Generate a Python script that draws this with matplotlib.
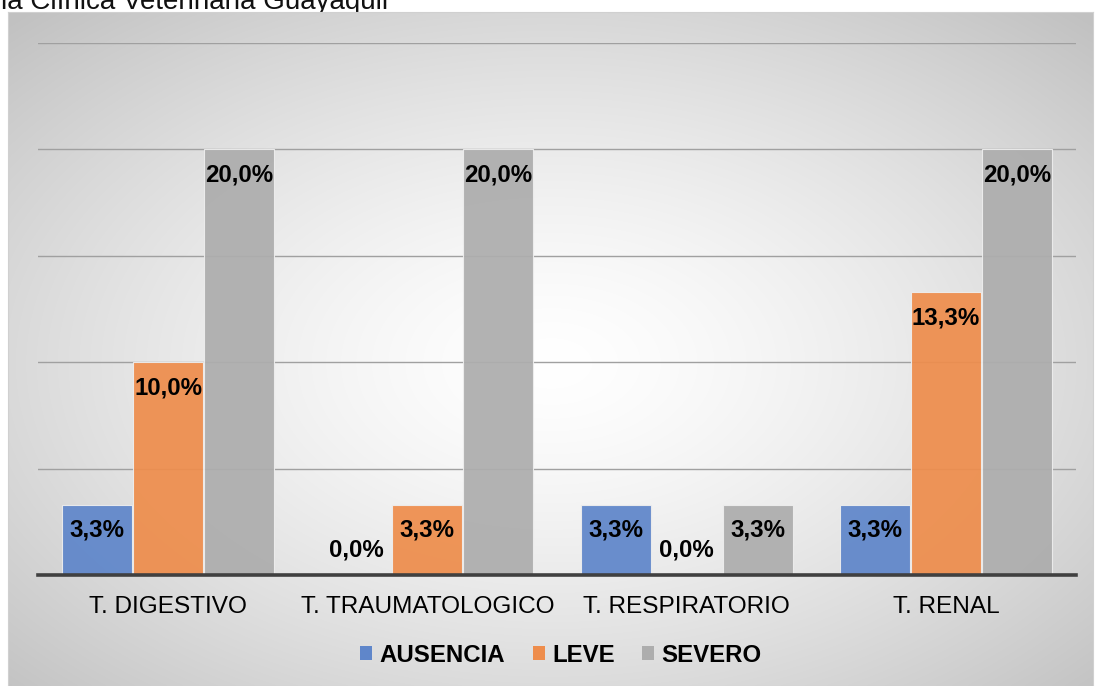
import numpy as np
import matplotlib
matplotlib.use("Agg")
import matplotlib.pyplot as plt
from matplotlib.patches import Patch

plt.rcParams["font.family"] = ["Liberation Sans", "DejaVu Sans"]

categorias = ["T. DIGESTIVO", "T. TRAUMATOLOGICO", "T. RESPIRATORIO", "T. RENAL"]
series = ["AUSENCIA", "LEVE", "SEVERO"]
ausencia = [3.3, 0.0, 3.3, 3.3]
leve = [10.0, 3.3, 0.0, 13.3]
severo = [20.0, 20.0, 3.3, 20.0]
colores = ["#5f86ca", "#ee8d4c", "#adadad"]
titulo = "la Clínica Veterinaria Guayaquil"

W, H = 1095, 686
fig = plt.figure(figsize=(W / 100, H / 100), dpi=100)
fig.patch.set_facecolor("white")

# partially cut title strip at the very top
fig.text(1 / W, 1 - 9 / H, titulo, fontsize=20, va="baseline", ha="left",
         color="#111111", zorder=-5)

# chart area with radial gradient
bg = fig.add_axes([8 / W, 0, (W - 10) / W, (H - 12) / H], zorder=-1)
ny, nx = 337, 542
yy, xx = np.mgrid[0:ny, 0:nx]
cx, cy = nx * 0.5, ny * 0.52
r = np.sqrt(((xx - cx) / (nx / 2)) ** 2 + ((yy - cy) / (ny / 2)) ** 2) / np.sqrt(2)
g = 1 - 0.24 * np.clip(r, 0, 1) ** 1.4
bg.imshow(np.dstack([g, g, g]), aspect="auto", origin="upper",
          extent=[0, 1, 0, 1], interpolation="bilinear")
bg.set_xlim(0, 1)
bg.set_ylim(0, 1)
bg.set_xticks([])
bg.set_yticks([])
for s in bg.spines.values():
    s.set_color("#d0d0d0")
    s.set_linewidth(0.8)

ax = fig.add_axes([38.4 / W, (H - 575) / H, 1037.2 / W, (575 - 43) / H])
ax.patch.set_alpha(0)
x = np.arange(len(categorias))
ancho = 0.27
for i, (nombre, vals) in enumerate(zip(series, [ausencia, leve, severo])):
    pos = x + (i - 1) * 0.274
    ax.bar(pos, vals, width=ancho, color=colores[i], edgecolor="#eeeeee",
           linewidth=0.8, alpha=0.93, zorder=2, label=nombre)
    for px, v in zip(pos, vals):
        etiqueta = f"{v:.1f}%".replace(".", ",")
        if v > 0:
            ax.annotate(etiqueta, (px, v), xytext=(0, -18.5), textcoords="offset points",
                        ha="center", va="center", fontsize=17.3, fontweight="bold", zorder=4)
        else:
            ax.annotate(etiqueta, (px, 0), xytext=(0, 18), textcoords="offset points",
                        ha="center", va="center", fontsize=17.3, fontweight="bold", zorder=4)

ax.set_xlim(-0.5, len(categorias) - 0.5)
ax.set_ylim(0, 25)
ax.set_yticks([5, 10, 15, 20, 25])
ax.yaxis.grid(True, color="#a0a0a0", linewidth=1, zorder=1)
ax.set_axisbelow(True)
ax.tick_params(axis="y", left=False, labelleft=False)
ax.set_xticks(x)
ax.set_xticklabels(categorias, fontsize=17.6)
ax.tick_params(axis="x", length=0, pad=15)
for s in ["top", "right", "left"]:
    ax.spines[s].set_visible(False)
ax.spines["bottom"].set_color("#404040")
ax.spines["bottom"].set_linewidth(2.6)
ax.spines["bottom"].set_zorder(5)

handles = [Patch(facecolor=c, edgecolor="none") for c in colores]
fig.legend(handles, series, loc="center", bbox_to_anchor=(561 / W, 1 - 655 / H),
           ncol=3, frameon=False, handlelength=0.5, handleheight=0.5,
           handletextpad=0.3, columnspacing=1.15,
           prop={"size": 17.3, "weight": "bold"})

fig.savefig("out.png", dpi=100)
